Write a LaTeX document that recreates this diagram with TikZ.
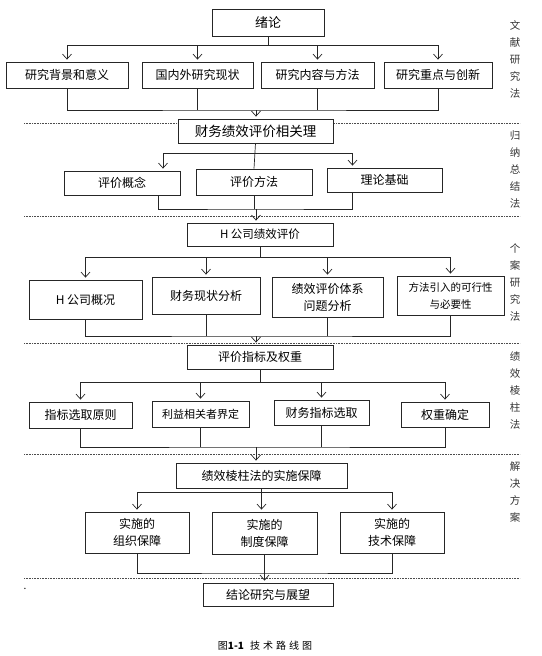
\documentclass[tikz,border=0pt]{standalone}
\usepackage{fontspec}
\setmainfont{Noto Sans CJK SC}
\usetikzlibrary{arrows.meta}
\tikzset{
	box/.style={draw=black!85, line width=0.8pt, fill=white, inner sep=1pt, align=center, font=\fontsize{12}{17}\selectfont},
	link/.style={draw=black!85, line width=0.7pt},
	arr/.style={-{Straight Barb[length=5pt,width=9pt]}, shorten >=2pt},
	sep/.style={densely dotted, black!70, line width=0.6pt},
	side/.style={align=center, text=black!80, font=\fontsize{10.5}{17}\selectfont},
}
\begin{document}
\begin{tikzpicture}[x=1pt, y=-1pt]
	\useasboundingbox (0,0) rectangle (541,656);
	%\draw[help lines] (0,0) grid (541,656);

	% separators
	\draw[sep] (24,123) -- (520,123);
	\draw[sep] (24,216) -- (520,216);
	\draw[sep] (24,343) -- (520,343);
	\draw[sep] (24,454) -- (520,454);
	\draw[sep] (24,578) -- (520,578);

	% level 1
	\node [box, minimum width=112pt, minimum height=27pt, font=\fontsize{13}{16}\selectfont] (n0) at (268,23) {绪论};
	\node [box, minimum width=122pt, minimum height=26pt] (a1) at (67,75) {研究背景和意义};
	\node [box, minimum width=111pt, minimum height=26pt] (a2) at (197.5,75) {国内外研究现状};
	\node [box, minimum width=113pt, minimum height=26pt] (a3) at (317.5,75) {研究内容与方法};
	\node [box, minimum width=108pt, minimum height=26pt] (a4) at (438,75) {研究重点与创新};
	\node [side] (s1) at (515,59) {文\\献\\研\\究\\法};

	\draw[link, arr] (n0.south) -- ++(0,8) -| (a1.north);
	\draw[link, arr] (n0.south) -- ++(0,8) -| (a2.north);
	\draw[link, arr] (n0.south) -- ++(0,8) -| (a3.north);
	\draw[link, arr] (n0.south) -- ++(0,8) -| (a4.north);

	% level 2
	\node [box, minimum width=155pt, minimum height=24pt, font=\fontsize{13.5}{16}\selectfont] (n1) at (255.5,131) {财务绩效评价相关理};
	\node [box, minimum width=116pt, minimum height=24pt] (b1) at (122,183) {评价概念};
	\node [box, minimum width=116pt, minimum height=26pt] (b2) at (254,182) {评价方法};
	\node [box, minimum width=115pt, minimum height=24pt] (b3) at (384.5,180) {理论基础};
	\node [side] (s2) at (515,170) {归\\纳\\总\\结\\法};

	\coordinate (m1) at (256,110);
	\draw[link] (a1.south) |- (m1) -| (a4.south);
	\draw[link] (a2.south) -- (a2.south |- m1);
	\draw[link] (a3.south) -- (a3.south |- m1);
	\draw[link, arr] (m1) -- (m1 |- n1.north);

	\draw[link] (n1.south) -- (b2.north);
	\draw[link, arr] (n1.south) ++(0,10) -| ([xshift=41pt]b1.north);
	\draw[link, arr] (n1.south) ++(0,10) -| ([xshift=-32pt]b3.north);

	% level 3
	\node [box, minimum width=146pt, minimum height=23pt, font=\fontsize{11.5}{16}\selectfont] (n2) at (260,234.5) {H 公司绩效评价};
	\node [box, minimum width=113pt, minimum height=39pt] (c1) at (85.5,299.5) {H 公司概况};
	\node [box, minimum width=108pt, minimum height=37pt] (c2) at (206,295.5) {财务现状分析};
	\node [box, minimum width=111pt, minimum height=40pt] (c3) at (327.5,297) {绩效评价体系\\问题分析};
	\node [box, minimum width=107pt, minimum height=39pt, font=\fontsize{10.5}{17}\selectfont] (c4) at (450.5,295.5) {方法引入的可行性\\与必要性};
	\node [side] (s3) at (515,282) {个\\案\\研\\究\\法};

	\coordinate (m2) at (256,209);
	\draw[link] ([xshift=36pt]b1.south) |- (m2) -| ([xshift=-32pt]b3.south);
	\draw[link] (b2.south) -- (b2.south |- m2);
	\draw[link, arr] (m2) -- (m2 |- n2.north);

	\draw[link, arr] (n2.south) -- ++(0,11) -| (c1.north);
	\draw[link, arr] (n2.south) -- ++(0,11) -| (c2.north);
	\draw[link, arr] (n2.south) -- ++(0,11) -| (c3.north);
	\draw[link, arr] (n2.south) -- ++(0,11) -| (c4.north);

	% level 4
	\node [box, minimum width=146pt, minimum height=24pt] (n3) at (260,357) {评价指标及权重};
	\node [box, minimum width=103pt, minimum height=26pt] (d1) at (80.5,415) {指标选取原则};
	\node [box, minimum width=97pt, minimum height=26pt, font=\fontsize{11}{16}\selectfont] (d2) at (200.5,414) {利益相关者界定};
	\node [box, minimum width=95pt, minimum height=25pt] (d3) at (321.5,412.5) {财务指标选取};
	\node [box, minimum width=88pt, minimum height=25pt] (d4) at (445,414.5) {权重确定};
	\node [side] (s4) at (515,391) {绩\\效\\棱\\柱\\法};

	\coordinate (m3) at (256,336);
	\draw[link] (c1.south) |- (m3) -| (c4.south);
	\draw[link] (c2.south) -- (c2.south |- m3);
	\draw[link] (c3.south) -- (c3.south |- m3);
	\draw[link, arr] (m3) -- (m3 |- n3.north);

	\draw[link, arr] (n3.south) -- ++(0,13) -| (d1.north);
	\draw[link, arr] (n3.south) -- ++(0,13) -| (d2.north);
	\draw[link, arr] (n3.south) -- ++(0,13) -| (d3.north);
	\draw[link, arr] (n3.south) -- ++(0,13) -| (d4.north);

	% level 5
	\node [box, minimum width=171pt, minimum height=25pt] (n4) at (261.5,475.5) {绩效棱柱法的实施保障};
	\node [box, minimum width=104pt, minimum height=41pt] (e1) at (137,532.5) {实施的\\组织保障};
	\node [box, minimum width=105pt, minimum height=42pt] (e2) at (264.5,533) {实施的\\制度保障};
	\node [box, minimum width=104pt, minimum height=41pt] (e3) at (392,532.5) {实施的\\技术保障};
	\node [side] (s5) at (515,492) {解\\决\\方\\案};

	\coordinate (m4) at (256,447);
	\draw[link] (d1.south) |- (m4) -| (d4.south);
	\draw[link] (d2.south) -- (d2.south |- m4);
	\draw[link] (d3.south) -- (d3.south |- m4);
	\draw[link, arr] (m4) -- (m4 |- n4.north);

	\draw[link, arr] (n4.south) -- ++(0,4) -| (e1.north);
	\draw[link, arr] (n4.south) -- (n4.south |- e2.north);
	\draw[link, arr] (n4.south) -- ++(0,4) -| (e3.north);

	% level 6
	\node [box, minimum width=130pt, minimum height=23pt] (n5) at (268,594.5) {结论研究与展望};
	\node (dot) at (25,589) {.};

	\coordinate (m5) at (264.5,573);
	\draw[link] (e1.south) |- (m5) -| (e3.south);
	\draw[link, arr] (e2.south) -- (e2.south |- n5.north);

	\node [font=\fontsize{10}{12}\selectfont] (cap) at (265,646) {图\textbf{1-1}\hspace{6pt}技\hspace{3pt}术\hspace{3pt}路\hspace{3pt}线\hspace{3pt}图};
\end{tikzpicture}
\end{document}
